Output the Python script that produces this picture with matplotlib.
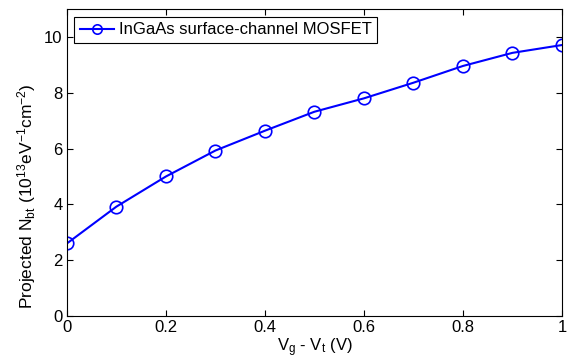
import matplotlib
matplotlib.use("Agg")
import matplotlib.pyplot as plt

plt.rcParams["font.family"] = ["Liberation Sans", "DejaVu Sans"]
plt.rcParams["mathtext.fontset"] = "custom"
plt.rcParams["mathtext.rm"] = "Liberation Sans"
plt.rcParams["mathtext.it"] = "Liberation Sans"

# Data
vg_vt = [0.0, 0.1, 0.2, 0.3, 0.4, 0.5, 0.6, 0.7, 0.8, 0.9, 1.0]
nbt = [2.6, 3.92, 5.0, 5.93, 6.64, 7.32, 7.8, 8.36, 8.96, 9.43, 9.71]

x_ticks = [0, 0.2, 0.4, 0.6, 0.8, 1]
x_ticklabels = ["0", "0.2", "0.4", "0.6", "0.8", "1"]
y_ticks = [0, 2, 4, 6, 8, 10]

fig = plt.figure(figsize=(5.67, 3.62), dpi=100)
ax = fig.add_axes([0.118, 0.127, 0.873, 0.848])

ax.plot(vg_vt, nbt, "-o", color="#0000ff", linewidth=1.5, markersize=9,
        markerfacecolor="none", markeredgewidth=1.2,
        label="InGaAs surface-channel MOSFET")

ax.set_xlim(0, 1)
ax.set_ylim(0, 11)
ax.set_xticks(x_ticks)
ax.set_xticklabels(x_ticklabels)
ax.set_yticks(y_ticks)
ax.tick_params(direction="in", top=True, right=True, labelsize=12, length=4, pad=3)
for s in ax.spines.values():
    s.set_linewidth(0.8)

ax.set_xlabel(r"V$_\mathrm{g}$ - V$_\mathrm{t}$ (V)", fontsize=12, labelpad=1)
ax.set_ylabel(r"Projected N$_\mathrm{bt}$ (10$^{13}$eV$^{-1}$cm$^{-2}$)", fontsize=12.5)
ax.yaxis.set_label_coords(-0.058, 0.39)

leg = ax.legend(loc="upper left", fontsize=12, fancybox=False, edgecolor="black",
                framealpha=1, borderaxespad=0.45, handlelength=2.0,
                borderpad=0.35, handletextpad=0.3, markerscale=0.75)
leg.get_frame().set_linewidth(0.8)

plt.savefig("out.png", dpi=100)
